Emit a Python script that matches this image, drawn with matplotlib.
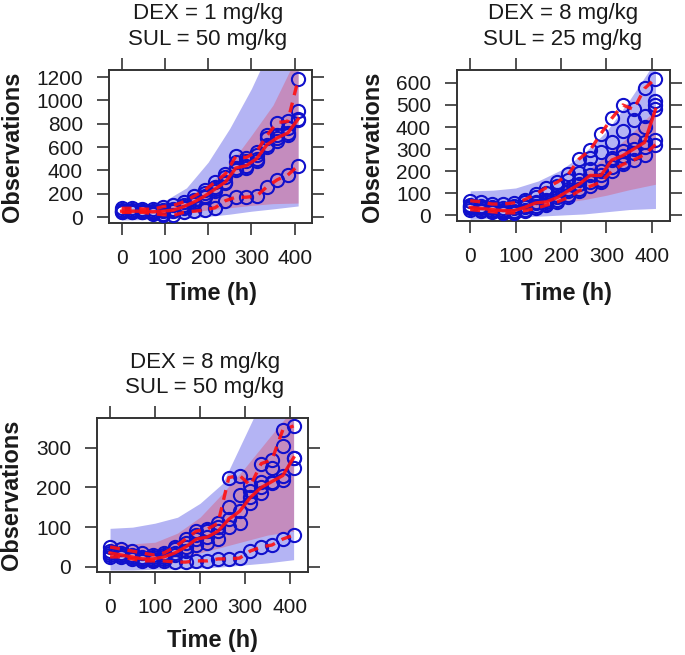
import numpy as np
import matplotlib
matplotlib.use("Agg")
import matplotlib.pyplot as plt

plt.rcParams['font.family'] = ['Liberation Sans', 'DejaVu Sans']

# ---------------- data ----------------
obs_time = np.arange(0, 409, 24)          # 0, 24, ..., 408 h
band_time = [0, 50, 100, 150, 200, 250, 300, 350, 408]

title_dex = ["DEX = 1 mg/kg", "DEX = 8 mg/kg", "DEX = 8 mg/kg"]
title_sul = ["SUL = 50 mg/kg", "SUL = 25 mg/kg", "SUL = 50 mg/kg"]
x_label = "Time (h)"
y_label = "Observations"

# panel 1: DEX 1 / SUL 50
p1_obs = [
    [75, 75, 70, 65, 90, 100, 130, 180, 230, 300, 370, 520, 510, 560, 700, 810, 820, 1180],
    [60, 60, 55, 50, 60, 70, 100, 150, 210, 260, 340, 470, 440, 530, 680, 700, 760, 910],
    [50, 50, 50, 45, 50, 60, 90, 130, 180, 240, 300, 420, 480, 500, 620, 680, 720, 830],
    [40, 45, 40, 35, 30, 50, 80, 110, 170, 220, 290, 400, 420, 480, 600, 650, 700, 840],
    [45, 40, 40, 30, 20, 15, 40, 50, 60, 80, 140, 170, 170, 180, 260, 320, 360, 440],
]
p1_blue_lo = [-25, -22, -18, -10, 5, 25, 50, 70, 95]
p1_blue_hi = [100, 110, 140, 250, 470, 760, 1100, 1500, 2000]
p1_red_lo = [30, 30, 35, 45, 60, 80, 100, 115, 120]
p1_red_hi = [70, 75, 90, 150, 270, 450, 700, 960, 1400]

# panel 2: DEX 8 / SUL 25
p2_obs = [
    [65, 60, 50, 50, 55, 70, 95, 125, 150, 185, 255, 295, 370, 440, 500, 480, 575, 620],
    [45, 40, 35, 30, 40, 60, 80, 100, 130, 160, 190, 260, 285, 330, 380, 430, 450, 520],
    [35, 30, 25, 20, 20, 35, 55, 60, 80, 110, 140, 180, 200, 260, 290, 340, 400, 480],
    [30, 25, 20, 15, 15, 25, 40, 50, 70, 90, 120, 150, 160, 220, 240, 280, 310, 340],
    [25, 20, 15, 10, 10, 20, 30, 45, 60, 80, 110, 130, 150, 200, 230, 250, 275, 320],
    [40, 35, 30, 25, 30, 40, 60, 70, 90, 120, 160, 210, 180, 250, 270, 300, 330, 500],
]
p2_blue_lo = [-20, -15, -10, -5, 0, 5, 15, 25, 30]
p2_blue_hi = [110, 113, 123, 155, 205, 280, 380, 520, 700]
p2_red_lo = [25, 20, 20, 35, 55, 70, 90, 115, 140]
p2_red_hi = [50, 45, 45, 70, 120, 190, 270, 360, 480]

# panel 3: DEX 8 / SUL 50
p3_obs = [
    [50, 45, 40, 35, 30, 35, 50, 70, 90, 95, 110, 225, 230, 205, 260, 270, 345, 355],
    [40, 35, 30, 25, 25, 30, 45, 60, 80, 90, 100, 150, 180, 190, 215, 250, 305, 275],
    [30, 30, 25, 20, 20, 25, 35, 50, 70, 75, 90, 120, 140, 175, 200, 215, 230, 275],
    [25, 25, 20, 15, 15, 20, 30, 40, 55, 60, 70, 100, 110, 160, 185, 210, 220, 250],
    [35, 30, 25, 20, 18, 15, 12, 12, 15, 15, 20, 20, 22, 40, 50, 55, 70, 80],
]
p3_blue_lo = [-8, -8, -6, -5, -3, 0, 5, 10, 18]
p3_blue_hi = [97, 100, 110, 125, 160, 210, 330, 450, 600]
p3_red_lo = [25, 22, 20, 25, 35, 50, 65, 80, 90]
p3_red_hi = [60, 58, 62, 85, 125, 185, 250, 320, 400]

panels = [
    dict(obs=p1_obs, blo=p1_blue_lo, bhi=p1_blue_hi, rlo=p1_red_lo, rhi=p1_red_hi,
         ylim=(-51, 1260), yticks=np.arange(0, 1201, 200)),
    dict(obs=p2_obs, blo=p2_blue_lo, bhi=p2_blue_hi, rlo=p2_red_lo, rhi=p2_red_hi,
         ylim=(-27, 659), yticks=np.arange(0, 601, 100)),
    dict(obs=p3_obs, blo=p3_blue_lo, bhi=p3_blue_hi, rlo=p3_red_lo, rhi=p3_red_hi,
         ylim=(-13, 375), yticks=np.arange(0, 301, 100)),
]

# ---------------- layout (pixels of a 685x655 canvas) ----------------
W, H = 685, 655
boxes = [(109, 70, 312, 223), (457, 70, 670, 221), (97, 418, 308, 572)]
title_pos = [(208, 13, 39), (563, 13, 39), (205, 362, 388)]
xlab_pos = [(211, 293), (566, 293), (212, 640)]
ylab_pos = [(13, 147), (373, 147), (12, 495)]

fig = plt.figure(figsize=(W / 100, H / 100), dpi=100)

title_fs = 16
tick_fs = 15
ylab_fs = 16.9
xlab_fs = 16.9

BLUE_BAND = '#B4B4F4'
RED = '#FF1010'
CIRC = '#1010CC'
TXT = '#1a1a1a'
PX = 0.72  # points per pixel at 100 dpi

for i, p in enumerate(panels):
    l, t, r, b = boxes[i]
    ax = fig.add_axes([l / W, 1 - b / H, (r - l) / W, (b - t) / H])
    ax.fill_between(band_time, p['blo'], p['bhi'], color=BLUE_BAND, lw=0, zorder=1)
    ax.fill_between(band_time, p['rlo'], p['rhi'], color='red', alpha=0.22, lw=0, zorder=2)
    obs = np.array(p['obs'], dtype=float)
    for row in obs:
        ax.plot(obs_time, row, ls='none', marker='o', ms=9.5, mfc='none',
                mec=CIRC, mew=1.5, zorder=3)
    lo, med, hi = np.percentile(obs, [5, 50, 95], axis=0, method='nearest')
    ax.plot(obs_time, med, color=RED, lw=2.4, zorder=4, alpha=0.9)
    for q in (lo, hi):
        ax.plot(obs_time, q, color=RED, lw=2.4, ls=(0, (3, 2.3)), zorder=4, alpha=0.9)

    ax.set_xlim(-29, 440)
    ax.set_ylim(*p['ylim'])
    ax.set_xticks(np.arange(0, 401, 100))
    ax.set_yticks(p['yticks'])
    ax.tick_params(direction='out', length=12 * PX, width=1.2, color='#333333',
                   labelsize=tick_fs, labelcolor=TXT, pad=14 * PX,
                   top=True, right=True, labeltop=False, labelright=False)
    for s in ax.spines.values():
        s.set_linewidth(1.4)
        s.set_color('#333333')

    tx, ty1, ty2 = title_pos[i]
    fig.text(tx / W, 1 - ty1 / H, title_dex[i], ha='center', va='center',
             fontsize=title_fs, color=TXT)
    fig.text(tx / W, 1 - ty2 / H, title_sul[i], ha='center', va='center',
             fontsize=title_fs, color=TXT)
    xx, xy = xlab_pos[i]
    fig.text(xx / W, 1 - xy / H, x_label, ha='center', va='center',
             fontsize=xlab_fs, fontweight='bold', color=TXT)
    yx, yy = ylab_pos[i]
    fig.text(yx / W, 1 - yy / H, y_label, ha='center', va='center',
             rotation=90, fontsize=ylab_fs, fontweight='bold', color=TXT)

fig.savefig('out.png', dpi=100, facecolor='white')
